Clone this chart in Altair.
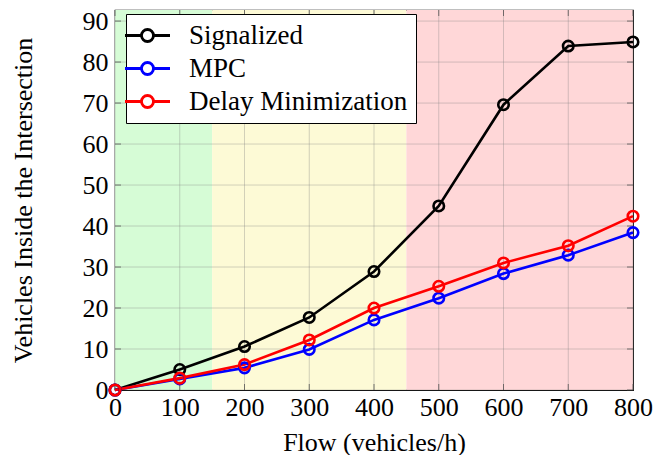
import altair as alt
import pandas as pd

flow = [0, 100, 200, 300, 400, 500, 600, 700, 800]
signalized = [0, 5.0, 10.6, 17.7, 28.9, 44.9, 69.6, 83.9, 84.9]
mpc = [0, 2.7, 5.4, 9.9, 17.1, 22.4, 28.4, 32.9, 38.4]
delay_min = [0, 2.9, 6.2, 12.2, 20.0, 25.3, 31.0, 35.2, 42.4]
series_names = ["Signalized", "MPC", "Delay Minimization"]
series_colors = ["#000000", "#0000ff", "#ff0000"]

region_start = [0, 150, 450]
region_end = [150, 450, 800]
region_colors = ["#d6fcd6", "#fdfad6", "#ffd7d8"]

x_ticks = [0, 100, 200, 300, 400, 500, 600, 700, 800]
y_ticks = [0, 10, 20, 30, 40, 50, 60, 70, 80, 90]

W, H = 518, 380

rows = []
for name, vals in zip(series_names, [signalized, mpc, delay_min]):
    for f, v in zip(flow, vals):
        rows.append({"flow": f, "value": v, "series": name})
df = pd.DataFrame(rows)
regions = pd.DataFrame({"x0": region_start, "x1": region_end, "c": region_colors})
xg = pd.DataFrame({"t": x_ticks})
yg = pd.DataFrame({"t": y_ticks})

FONT = "Times New Roman, Liberation Serif, DejaVu Serif, serif"
xscale = alt.Scale(domain=[0, 800], nice=False, zero=False)
yscale = alt.Scale(domain=[0, 92.7], nice=False)

bg = alt.Chart(regions).mark_rect().encode(
    x=alt.X("x0:Q", scale=xscale),
    x2="x1",
    y=alt.value(0),
    y2=alt.value(H),
    fill=alt.Fill("c:N", scale=None),
)
vgrid = alt.Chart(xg).mark_rule(color="#808080", opacity=0.35, strokeWidth=1).encode(
    x=alt.X("t:Q", scale=xscale), y=alt.value(0), y2=alt.value(H)
)
hgrid = alt.Chart(yg).mark_rule(color="#808080", opacity=0.35, strokeWidth=1).encode(
    y=alt.Y("t:Q", scale=yscale), x=alt.value(0), x2=alt.value(W)
)
tick_style = dict(color="#444444", opacity=0.7, strokeWidth=1)
xt_bot = alt.Chart(xg).mark_rule(**tick_style).encode(
    x=alt.X("t:Q", scale=xscale), y=alt.value(H - 6), y2=alt.value(H)
)
xt_top = alt.Chart(xg).mark_rule(**tick_style).encode(
    x=alt.X("t:Q", scale=xscale), y=alt.value(0), y2=alt.value(6)
)
yt_left = alt.Chart(yg).mark_rule(**tick_style).encode(
    y=alt.Y("t:Q", scale=yscale), x=alt.value(0), x2=alt.value(6)
)
yt_right = alt.Chart(yg).mark_rule(**tick_style).encode(
    y=alt.Y("t:Q", scale=yscale), x=alt.value(W - 6), x2=alt.value(W)
)

color = alt.Color(
    "series:N",
    scale=alt.Scale(domain=series_names, range=series_colors),
    sort=series_names,
    legend=alt.Legend(
        title=None,
        orient="none",
        legendX=11,
        legendY=4,
        fillColor="white",
        strokeColor="black",
        padding=8,
        labelFont=FONT,
        labelFontSize=27,
        labelColor="black",
        labelLimit=400,
        symbolType="M-3.75,0L-1,0M1,0L3.75,0M-1,0A1,1,0,1,1,1,0A1,1,0,1,1,-1,0",
        symbolSize=144,
        symbolStrokeWidth=2.8,
        symbolFillColor="transparent",
        rowPadding=5,
        labelOffset=28,
    ),
)

x_enc = alt.X(
    "flow:Q",
    scale=xscale,
    axis=alt.Axis(values=x_ticks, title="Flow (vehicles/h)", grid=False, ticks=False,
                  domain=False, labelPadding=4, titlePadding=9, labelFlush=False,
                  labelOverlap=False),
)
y_enc = alt.Y(
    "value:Q",
    scale=yscale,
    axis=alt.Axis(values=y_ticks, title="Vehicles Inside the Intersection", grid=False,
                  ticks=False, domain=False, labelPadding=7, titlePadding=46,
                  labelFlush=False, labelOverlap=False),
)

lines = alt.Chart(df).mark_line(strokeWidth=2.6).encode(x=x_enc, y=y_enc, color=color)
points = alt.Chart(df).mark_point(filled=False, size=110, strokeWidth=2.6, opacity=1).encode(
    x=x_enc, y=y_enc, color=color
)

chart = alt.layer(bg, vgrid, hgrid, xt_bot, xt_top, yt_left, yt_right, lines, points).properties(
    width=W, height=H, padding={"left": 2, "top": 0, "right": 5, "bottom": 0},
    background="white",
).configure_view(stroke="black", strokeWidth=1.2).configure_axis(
    labelFont=FONT, titleFont=FONT, labelFontSize=26, titleFontSize=26,
    labelColor="black", titleColor="black", titleFontWeight="normal",
)

chart.save("out.html", embed_options={"renderer": "svg", "actions": False})
